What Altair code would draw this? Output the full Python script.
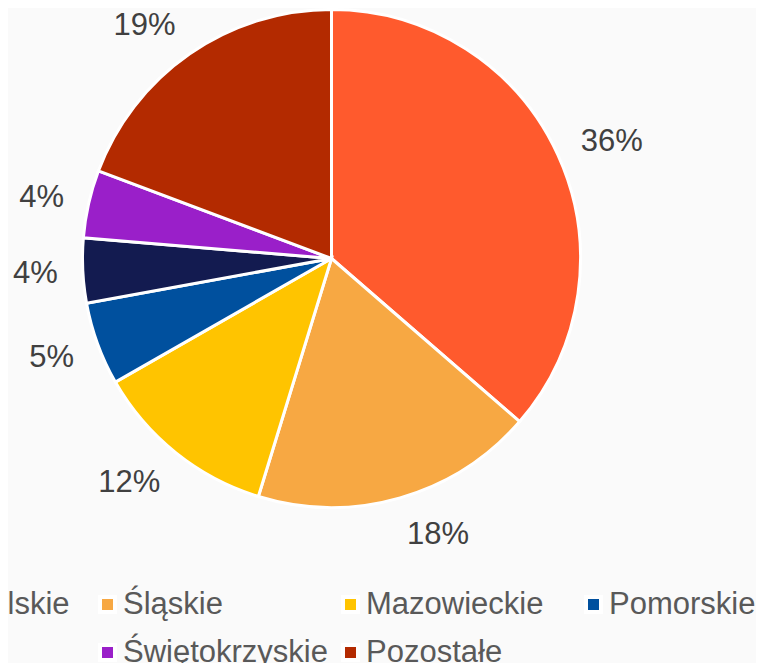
import altair as alt
import pandas as pd

categories = ["Wielkopolskie", "Śląskie", "Mazowieckie", "Pomorskie",
              "Łódzkie", "Świętokrzyskie", "Pozostałe"]
values = [36.4, 18.4, 12.0, 5.4, 4.2, 4.4, 19.3]
colors = ["#FF5A2D", "#F7A843", "#FFC400", "#00509E", "#131B50", "#9A1FC9", "#B32A00"]

df = pd.DataFrame({"kat": categories, "val": values, "idx": list(range(len(categories)))})

cx, cy, R = 323.5, 250.5, 249

arcs = alt.Chart(df).mark_arc(radius=R, stroke="white", strokeWidth=3).encode(
    theta=alt.Theta("val:Q", stack=True),
    order=alt.Order("idx:Q"),
    x=alt.value(cx), y=alt.value(cy),
    color=alt.Color(
        "kat:N",
        scale=alt.Scale(domain=categories, range=colors),
        legend=alt.Legend(
            title=None, orient="none", legendX=-159, legendY=581, direction="horizontal",
            columns=4, gridAlign="all", columnPadding=7, rowPadding=16,
            symbolType="square", symbolSize=225, symbolStrokeColor="white",
            symbolStrokeWidth=4, symbolOpacity=1,
            labelFont="Liberation Sans", labelFontSize=31, labelColor="#595959",
            labelOffset=0, labelLimit=400, padding=0,
        ),
    ),
)

labels = alt.Chart(df).transform_window(
    cum="sum(val)", sort=[alt.SortField("idx")], frame=[None, 0]
).transform_joinaggregate(
    tot="sum(val)"
).transform_calculate(
    lab="format(datum.val, '.0f') + '%'",
    mid="2*PI*(datum.cum - datum.val/2)/datum.tot",
).transform_calculate(
    hw="(17.2*(length(datum.lab)-1) + 27.6)/2",
).transform_calculate(
    lx=f"{cx} + ({R}+25)*sin(datum.mid) + (sin(datum.mid) >= 0 ? 1 : -1)*datum.hw",
    ly=f"{cy} - ({R}+36.5)*cos(datum.mid) + 2",
).mark_text(font="Liberation Sans", fontSize=31, color="#404040").encode(
    x=alt.X("lx:Q", scale=None, axis=None),
    y=alt.Y("ly:Q", scale=None, axis=None),
    text="lab:N",
)

chart = alt.layer(arcs, labels).properties(
    width=748, height=655, autosize=alt.AutoSizeParams(type="none"), padding=0,
    background="#FAFAFA",
).configure_view(stroke=None)

chart.save("out.html", embed_options={"renderer": "svg", "actions": False})
